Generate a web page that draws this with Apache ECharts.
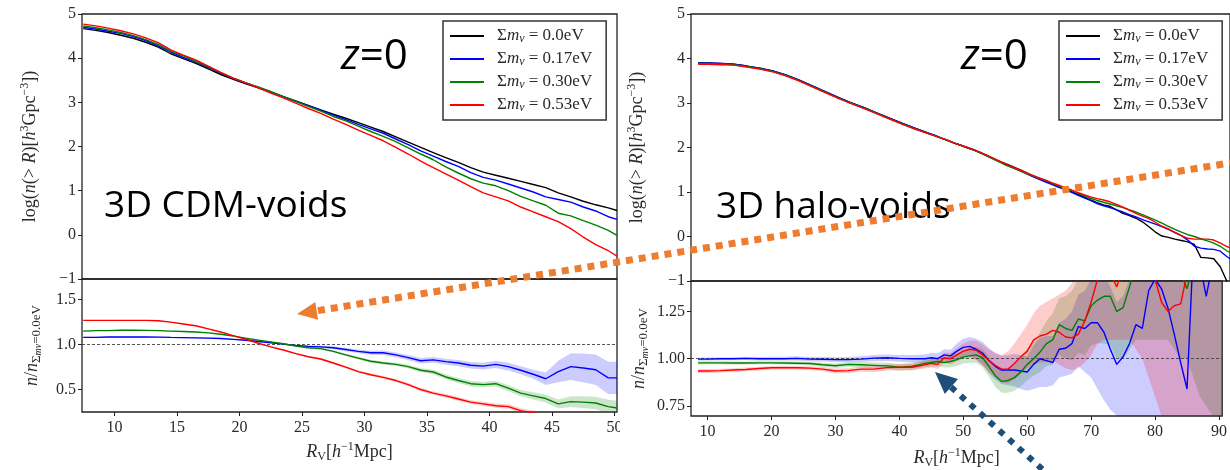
<!DOCTYPE html>
<html><head><meta charset="utf-8">
<script src="https://cdn.jsdelivr.net/npm/echarts@6/dist/echarts.min.js"></script>
<style>html,body{margin:0;padding:0;background:#fff}#c{width:1230px;height:470px}</style>
</head><body><div id="c"></div><script>
// ---------- DATA ----------
const NAMES = ['0.0eV','0.17eV','0.30eV','0.53eV'];
const COLORS = ['#000000','#0000ff','#008000','#ff0000'];
const BAND_COLORS = ['rgba(0,0,255,0.2)','rgba(0,128,0,0.2)','rgba(255,0,0,0.2)'];

// Left panel (3D CDM-voids)
const xL = [7.5,8.5,9.5,10.5,11.5,12.5,13.5,14.5,15.5,16.5,17.5,18.5,19.5,20.5,21.5,22.5,23.5,24.5,25.5,26.5,27.5,28.5,29.5,30.5,31.5,32.5,33.5,34.5,35.5,36.5,37.5,38.5,39.5,40.5,41.5,42.5,43.5,44.5,45.5,46.5,47.5,48.5,49.5,50.2];
const logL0 = [4.67,4.63,4.58,4.52,4.45,4.36,4.25,4.10,3.99,3.88,3.76,3.63,3.52,3.42,3.33,3.23,3.13,3.03,2.93,2.83,2.73,2.64,2.54,2.44,2.34,2.22,2.10,1.98,1.86,1.75,1.64,1.52,1.42,1.35,1.28,1.21,1.14,1.07,0.95,0.86,0.76,0.68,0.61,0.55];
const logL1 = [4.70,4.66,4.61,4.56,4.49,4.40,4.28,4.14,4.02,3.91,3.79,3.66,3.54,3.44,3.34,3.24,3.13,3.02,2.92,2.82,2.71,2.61,2.50,2.40,2.30,2.17,2.04,1.90,1.78,1.66,1.55,1.41,1.30,1.24,1.15,1.06,0.97,0.86,0.80,0.74,0.63,0.54,0.41,0.35];
const logL2 = [4.73,4.69,4.64,4.58,4.51,4.42,4.31,4.16,4.05,3.93,3.81,3.67,3.55,3.44,3.35,3.24,3.13,3.02,2.91,2.80,2.68,2.58,2.46,2.34,2.23,2.11,1.97,1.83,1.70,1.54,1.40,1.27,1.17,1.11,1.00,0.87,0.77,0.67,0.49,0.43,0.32,0.22,0.10,-0.01];
const logL3 = [4.77,4.73,4.68,4.62,4.55,4.46,4.35,4.19,4.07,3.96,3.82,3.68,3.55,3.44,3.33,3.21,3.10,2.98,2.86,2.75,2.62,2.50,2.37,2.25,2.13,1.98,1.83,1.67,1.52,1.38,1.24,1.09,0.95,0.86,0.77,0.63,0.52,0.41,0.30,0.14,-0.05,-0.22,-0.36,-0.48];
const ratioL1 = [1.08,1.08,1.085,1.085,1.085,1.085,1.083,1.08,1.078,1.075,1.072,1.068,1.058,1.048,1.035,1.02,1.005,0.99,0.98,0.975,0.965,0.945,0.925,0.91,0.91,0.885,0.855,0.82,0.83,0.81,0.795,0.77,0.76,0.78,0.755,0.715,0.67,0.62,0.70,0.755,0.74,0.72,0.63,0.63];
const ratioL2 = [1.15,1.155,1.155,1.16,1.16,1.158,1.155,1.15,1.145,1.14,1.13,1.115,1.095,1.07,1.05,1.03,1.01,0.985,0.965,0.955,0.925,0.885,0.85,0.815,0.795,0.78,0.755,0.715,0.695,0.64,0.6,0.565,0.555,0.565,0.515,0.46,0.43,0.4,0.34,0.365,0.36,0.35,0.31,0.295];
const ratioL3 = [1.27,1.27,1.27,1.27,1.27,1.27,1.265,1.25,1.23,1.21,1.175,1.14,1.1,1.06,1.015,0.975,0.94,0.9,0.865,0.84,0.795,0.75,0.7,0.665,0.635,0.6,0.555,0.5,0.46,0.43,0.395,0.36,0.34,0.32,0.31,0.265,0.24,0.22,0.2,0.18,0.16,0.14,0.12,0.1];
const halfWidthL1 = [0.006,0.006,0.006,0.006,0.006,0.006,0.006,0.006,0.006,0.006,0.006,0.006,0.006,0.006,0.006,0.006,0.008,0.01,0.012,0.014,0.016,0.018,0.02,0.022,0.025,0.027,0.03,0.03,0.032,0.033,0.035,0.036,0.038,0.04,0.042,0.045,0.05,0.07,0.12,0.15,0.16,0.17,0.18,0.18];
const halfWidthL2 = [0.005,0.005,0.005,0.005,0.005,0.005,0.005,0.005,0.005,0.005,0.005,0.005,0.005,0.005,0.005,0.005,0.007,0.008,0.01,0.011,0.012,0.013,0.015,0.016,0.017,0.018,0.02,0.022,0.025,0.026,0.028,0.03,0.03,0.032,0.034,0.036,0.04,0.045,0.05,0.06,0.065,0.07,0.075,0.08];
const halfWidthL3 = [0.005,0.005,0.005,0.005,0.005,0.005,0.005,0.005,0.005,0.005,0.005,0.005,0.005,0.005,0.005,0.005,0.007,0.008,0.009,0.01,0.011,0.012,0.013,0.014,0.015,0.016,0.017,0.018,0.019,0.02,0.021,0.022,0.023,0.024,0.025,0.026,0.027,0.028,0.03,0.03,0.03,0.03,0.03,0.03];

// Right panel (3D halo-voids)
const xR = [8.5,10,12,14,16,18,20,22,24,26,28,30,32,34,36,38,40,42,44,45,46,47,48,49,50,51,52,53,54,55,56,57,58,59,60,61,62,63,64,65,66,67,68,69,70,71,72,73,74,75,76,77,78,79,80,81,82,83,84,85,86,87,88,89,90,91,92];
const logR0 = [3.90,3.90,3.89,3.87,3.83,3.78,3.72,3.63,3.52,3.39,3.26,3.13,3.01,2.90,2.78,2.66,2.54,2.43,2.32,2.27,2.21,2.16,2.10,2.05,1.99,1.94,1.88,1.82,1.75,1.69,1.63,1.57,1.51,1.44,1.37,1.31,1.25,1.19,1.13,1.07,1.01,0.95,0.89,0.82,0.76,0.71,0.68,0.60,0.52,0.47,0.41,0.33,0.22,0.10,0.01,-0.02,-0.06,-0.09,-0.12,-0.18,-0.47,-0.48,-0.50,-0.68,-1.0,-1.3,-1.6];
const logR1 = [3.90,3.90,3.89,3.87,3.83,3.78,3.72,3.63,3.52,3.39,3.26,3.13,3.01,2.90,2.78,2.66,2.54,2.43,2.32,2.27,2.21,2.16,2.10,2.05,2.00,1.95,1.89,1.82,1.75,1.68,1.61,1.55,1.49,1.42,1.35,1.29,1.23,1.17,1.11,1.06,1.00,0.93,0.87,0.81,0.74,0.69,0.65,0.60,0.55,0.49,0.44,0.38,0.33,0.28,0.22,0.16,0.09,0.02,-0.08,-0.22,-0.26,-0.28,-0.29,-0.33,-0.45,-0.55,-0.65];
const logR2 = [3.89,3.89,3.88,3.86,3.82,3.77,3.71,3.62,3.51,3.38,3.25,3.12,3.00,2.89,2.77,2.65,2.53,2.42,2.31,2.26,2.21,2.15,2.10,2.05,1.99,1.94,1.88,1.81,1.74,1.67,1.60,1.54,1.48,1.42,1.37,1.31,1.26,1.20,1.14,1.09,1.04,0.98,0.92,0.86,0.81,0.77,0.73,0.69,0.65,0.60,0.55,0.49,0.43,0.37,0.30,0.23,0.16,0.10,0.04,0.00,-0.05,-0.10,-0.15,-0.22,-0.32,-0.40,-0.50];
const logR3 = [3.87,3.87,3.86,3.85,3.81,3.76,3.70,3.61,3.50,3.37,3.24,3.11,2.99,2.88,2.76,2.64,2.52,2.41,2.31,2.26,2.21,2.16,2.10,2.05,2.00,1.95,1.89,1.83,1.76,1.69,1.62,1.56,1.50,1.44,1.38,1.32,1.27,1.21,1.16,1.10,1.05,0.99,0.94,0.89,0.85,0.82,0.78,0.72,0.66,0.59,0.52,0.46,0.40,0.32,0.23,0.17,0.09,0.02,-0.04,-0.06,-0.06,-0.06,-0.08,-0.15,-0.22,-0.30,-0.40];
const ratioR1 = [0.998,0.998,1.0,1.0,1.002,1.0,1.0,1.0,1.002,0.998,0.997,0.995,0.995,0.998,1.003,1.005,1.002,1.0,1.0,1.005,1.0,1.02,1.015,1.04,1.06,1.065,1.05,1.03,0.99,0.96,0.94,0.94,0.94,0.935,0.93,0.97,1.0,0.99,0.98,1.05,1.055,1.08,1.17,1.16,1.19,1.19,1.14,1.05,0.97,1.01,1.08,1.18,1.16,1.36,1.42,1.37,1.27,1.13,0.98,0.84,1.6,1.5,1.33,1.5,1.6,1.6,1.6];
const ratioR2 = [0.978,0.978,0.978,0.977,0.977,0.978,0.978,0.977,0.976,0.975,0.968,0.963,0.97,0.968,0.965,0.962,0.955,0.96,0.975,0.98,0.985,0.98,0.985,0.995,1.01,1.015,1.02,1.005,0.96,0.91,0.88,0.885,0.9,0.93,0.97,1.0,1.035,1.08,1.10,1.18,1.16,1.15,1.21,1.2,1.28,1.31,1.33,1.33,1.25,1.27,1.38,1.5,1.55,1.55,1.55,1.55,1.55,1.5,1.45,1.37,1.5,1.6,1.6,1.6,1.6,1.6,1.6];
const ratioR3 = [0.935,0.935,0.937,0.94,0.943,0.948,0.952,0.953,0.952,0.95,0.945,0.935,0.937,0.945,0.945,0.953,0.955,0.955,0.968,0.975,0.97,1.005,1.0,1.02,1.04,1.05,1.045,1.02,0.99,0.965,0.945,0.945,0.975,1.01,1.04,1.1,1.12,1.13,1.15,1.14,1.115,1.11,1.13,1.2,1.3,1.42,1.42,1.45,1.38,1.48,1.5,1.5,1.48,1.45,1.42,1.3,1.25,1.28,1.29,1.45,1.55,1.6,1.6,1.6,1.6,1.6,1.6];
const bandLoR1 = [0.99,0.99,0.992,0.992,0.993,0.991,0.99,0.99,0.991,0.987,0.985,0.982,0.981,0.983,0.987,0.988,0.984,0.98,0.978,0.98,0.973,0.99,0.982,1.0,1.015,1.015,0.995,0.97,0.925,0.89,0.865,0.86,0.855,0.84,0.83,0.84,0.85,0.85,0.86,0.9,0.91,0.92,0.96,0.93,0.9,0.84,0.78,0.73,0.7,0.67,0.64,0.6,0.57,0.5,0.5,0.5,0.5,0.5,0.5,0.5,0.5,0.5,0.5,0.5,0.5,0.5,0.5];
const bandHiR1 = [1.006,1.006,1.008,1.008,1.011,1.009,1.01,1.01,1.013,1.009,1.009,1.008,1.009,1.013,1.019,1.022,1.02,1.02,1.022,1.03,1.027,1.05,1.048,1.08,1.105,1.115,1.105,1.09,1.055,1.03,1.015,1.02,1.025,1.02,1.01,1.07,1.11,1.12,1.12,1.19,1.21,1.25,1.34,1.36,1.42,1.45,1.45,1.38,1.3,1.33,1.42,1.6,1.6,1.7,1.7,1.7,1.7,1.7,1.7,1.7,1.7,1.7,1.7,1.7,1.7,1.7,1.7];
const bandLoR2 = [0.97,0.97,0.97,0.969,0.969,0.97,0.97,0.969,0.967,0.966,0.958,0.951,0.957,0.954,0.95,0.946,0.938,0.942,0.955,0.958,0.96,0.953,0.955,0.962,0.975,0.977,0.978,0.955,0.905,0.85,0.82,0.82,0.83,0.855,0.885,0.91,0.93,0.96,0.97,1.02,1.0,0.99,1.03,1.02,1.07,1.08,1.08,1.07,1.0,1.0,1.05,1.1,1.1,1.1,1.1,1.1,1.1,1.05,1.0,1.0,0.9,0.8,0.75,0.7,0.6,0.6,0.6];
const bandHiR2 = [0.986,0.986,0.986,0.985,0.985,0.986,0.986,0.985,0.985,0.984,0.978,0.975,0.983,0.982,0.98,0.978,0.972,0.978,0.995,1.002,1.01,1.007,1.015,1.028,1.045,1.055,1.062,1.05,1.01,0.965,0.94,0.95,0.97,1.005,1.05,1.09,1.14,1.2,1.24,1.32,1.33,1.36,1.42,1.45,1.5,1.55,1.6,1.6,1.6,1.6,1.7,1.7,1.7,1.7,1.7,1.7,1.7,1.7,1.7,1.7,1.7,1.7,1.7,1.7,1.7,1.7,1.7];
const bandLoR3 = [0.925,0.925,0.927,0.93,0.933,0.938,0.942,0.943,0.942,0.94,0.934,0.922,0.924,0.931,0.93,0.937,0.938,0.937,0.948,0.953,0.946,0.978,0.97,0.985,1.0,1.005,0.995,0.965,0.93,0.9,0.875,0.87,0.89,0.92,0.95,0.97,0.98,0.98,0.99,0.97,0.95,0.94,0.95,0.98,1.02,1.08,1.1,1.1,1.1,1.1,1.1,1.05,1.0,0.9,0.8,0.7,0.6,0.6,0.6,0.6,0.6,0.6,0.6,0.6,0.6,0.6,0.6];
const bandHiR3 = [0.945,0.945,0.947,0.95,0.953,0.958,0.962,0.963,0.962,0.96,0.956,0.948,0.95,0.959,0.96,0.969,0.972,0.973,0.988,0.997,0.994,1.032,1.03,1.055,1.08,1.095,1.095,1.075,1.05,1.03,1.02,1.04,1.08,1.13,1.18,1.24,1.28,1.3,1.32,1.34,1.36,1.4,1.45,1.5,1.6,1.7,1.7,1.7,1.7,1.7,1.7,1.7,1.7,1.7,1.7,1.7,1.7,1.7,1.7,1.7,1.7,1.7,1.7,1.7,1.7,1.7,1.7];

const xTicksL = [10,15,20,25,30,35,40,45,50];
const xTicksR = [10,20,30,40,50,60,70,80,90];
const yTicksTop = [-1,0,1,2,3,4,5];
const yTicksRatioL = [0.5,1.0,1.5];
const yTicksRatioR = [0.75,1.0,1.25];

// ---------- HELPERS ----------
const SERIF = 'Liberation Serif';
const TXT = '#2a2a2a';
const pairs = (xs, ys) => xs.map((x, i) => [x, ys[i]]);
const richTok = {
  i: {fontFamily: SERIF, fontStyle: 'italic', fontSize: 18, color: TXT, lineHeight: 22},
  r: {fontFamily: SERIF, fontSize: 18, color: TXT, lineHeight: 22},
  u: {fontFamily: SERIF, fontSize: 12, color: TXT, lineHeight: 11, verticalAlign: 'top'},
  s: {fontFamily: SERIF, fontSize: 13, color: TXT, lineHeight: 12, verticalAlign: 'bottom'},
  ss: {fontFamily: SERIF, fontStyle: 'italic', fontSize: 10, color: TXT, lineHeight: 6, verticalAlign: 'bottom'},
  sv: {fontFamily: SERIF, fontSize: 12, color: TXT, lineHeight: 11, verticalAlign: 'bottom'}
};
const nameStyle = {fontFamily: SERIF, fontSize: 18, color: TXT, lineHeight: 22, rich: richTok};

function lineSeries(name, xs, ys, color, xi, yi, extra) {
  return Object.assign({
    type: 'line', name, xAxisIndex: xi, yAxisIndex: yi, data: pairs(xs, ys),
    symbol: 'none', smooth: false, silent: true, z: 5,
    lineStyle: {color, width: 1.4}, itemStyle: {color}
  }, extra || {});
}
// shaded uncertainty band, drawn as one polygon through the axes' scales
function bandSeries(id, xs, lo, hi, color, xi, yi) {
  return {
    type: 'custom', name: id, xAxisIndex: xi, yAxisIndex: yi, silent: true, z: 2, clip: true,
    data: xs.map((x, i) => [x, lo[i], hi[i]]),
    encode: {x: 0, y: [1, 2]},
    renderItem: function (params, api) {
      if (params.dataIndex !== 0) return null;
      const pts = [];
      for (let i = 0; i < xs.length; i++) pts.push(api.coord([xs[i], hi[i]]));
      for (let i = xs.length - 1; i >= 0; i--) pts.push(api.coord([xs[i], lo[i]]));
      const cs = params.coordSys;
      return {
        type: 'group',
        clipPath: {type: 'rect', shape: {x: cs.x, y: cs.y, width: cs.width, height: cs.height}},
        children: [{type: 'polygon', shape: {points: pts}, style: {fill: color, stroke: null}}]
      };
    }
  };
}
const refLine = {silent: true, symbol: 'none', label: {show: false},
  lineStyle: {type: [3, 2], color: '#444', width: 0.9}, data: [{yAxis: 1}]};

// ---------- SERIES ----------
const series = [];
const logL = [logL0, logL1, logL2, logL3];
const logR = [logR0, logR1, logR2, logR3];
const ratL = [ratioL1, ratioL2, ratioL3];
const ratR = [ratioR1, ratioR2, ratioR3];
const hwL = [halfWidthL1, halfWidthL2, halfWidthL3];
const loR = [bandLoR1, bandLoR2, bandLoR3];
const hiR = [bandHiR1, bandHiR2, bandHiR3];

for (let k = 0; k < 4; k++) series.push(lineSeries(NAMES[k], xL, logL[k], COLORS[k], 0, 0));
for (let k = 0; k < 3; k++) {
  const lo = ratL[k].map((v, i) => v - hwL[k][i]);
  const hi = ratL[k].map((v, i) => v + hwL[k][i]);
  series.push(bandSeries('bandL' + k, xL, lo, hi, BAND_COLORS[k], 1, 1));
}
for (let k = 0; k < 3; k++) series.push(lineSeries('ratioL' + k, xL, ratL[k], COLORS[k + 1], 1, 1,
  k === 0 ? {markLine: refLine} : {}));

for (let k = 0; k < 4; k++) series.push(lineSeries(NAMES[k], xR, logR[k], COLORS[k], 2, 2));
for (let k = 0; k < 3; k++) series.push(bandSeries('bandR' + k, xR, loR[k], hiR[k], BAND_COLORS[k], 3, 3));
for (let k = 0; k < 3; k++) series.push(lineSeries('ratioR' + k, xR, ratR[k], COLORS[k + 1], 3, 3,
  k === 0 ? {markLine: refLine} : {}));

// ---------- AXES ----------
const tickStyle = {show: true, length: 4, lineStyle: {color: '#222', width: 1}};
const labStyle = {fontFamily: SERIF, fontSize: 16, color: TXT};
const minusFmt = v => (v < 0 ? '\u2212' + Math.abs(v) : String(v));

const gridBox = {show: true, borderColor: '#222', borderWidth: 1.3, backgroundColor: 'transparent', containLabel: false};
const grids = [
  Object.assign({left: 82, top: 14, width: 535, height: 265}, gridBox),
  Object.assign({left: 82, top: 279, width: 535, height: 133}, gridBox),
  Object.assign({left: 691, top: 14, width: 544, height: 267}, gridBox),
  Object.assign({left: 691, top: 281, width: 544, height: 136}, gridBox)
];
const xName = '{i|R}{sv|V}{r|[}{i|h}{u|\u22121}{r|Mpc]}';
const xAxes = [
  {gridIndex: 0, type: 'value', min: 7.4, max: 50.2, show: false},
  {gridIndex: 1, type: 'value', min: 7.4, max: 50.2, splitLine: {show: false}, axisLine: {show: false},
   axisTick: Object.assign({customValues: xTicksL}, tickStyle),
   axisLabel: Object.assign({customValues: xTicksL, margin: 8}, labStyle),
   name: xName, nameLocation: 'middle', nameGap: 29, nameTextStyle: nameStyle},
  {gridIndex: 2, type: 'value', min: 7.4, max: 90.5, show: false},
  {gridIndex: 3, type: 'value', min: 7.4, max: 90.5, splitLine: {show: false}, axisLine: {show: false},
   axisTick: Object.assign({customValues: xTicksR}, tickStyle),
   axisLabel: Object.assign({customValues: xTicksR, margin: 8}, labStyle),
   name: xName, nameLocation: 'middle', nameGap: 31, nameTextStyle: nameStyle}
];
const topName = '{r|log(}{i|n}{r|(> }{i|R}{r|)[}{i|h}{u|3}{r|Gpc}{u|\u22123}{r|])}';
const ratioName = '{i|n}{r|/}{i|n}{s|\u03a3}{ss|m}{ss|\u03bd}{s|=0.0eV}';
const yAxes = [
  {gridIndex: 0, type: 'value', min: -1, max: 5, interval: 1, splitLine: {show: false}, axisLine: {show: false},
   axisTick: tickStyle, axisLabel: Object.assign({formatter: minusFmt, margin: 6, customValues: yTicksTop}, labStyle),
   name: topName, nameLocation: 'middle', nameGap: 41, nameTextStyle: nameStyle},
  {gridIndex: 1, type: 'value', min: 0.25, max: 1.73, splitLine: {show: false}, axisLine: {show: false},
   axisTick: Object.assign({customValues: yTicksRatioL}, tickStyle),
   axisLabel: Object.assign({customValues: yTicksRatioL, formatter: v => Number(v).toFixed(1), margin: 6}, labStyle),
   name: ratioName, nameLocation: 'middle', nameGap: 39, nameTextStyle: nameStyle},
  {gridIndex: 2, type: 'value', min: -1, max: 5, interval: 1, splitLine: {show: false}, axisLine: {show: false},
   axisTick: tickStyle, axisLabel: Object.assign({formatter: minusFmt, margin: 6, customValues: yTicksTop}, labStyle),
   name: topName, nameLocation: 'middle', nameGap: 43, nameTextStyle: nameStyle},
  {gridIndex: 3, type: 'value', min: 0.697, max: 1.411, splitLine: {show: false}, axisLine: {show: false},
   axisTick: Object.assign({customValues: yTicksRatioR}, tickStyle),
   axisLabel: Object.assign({customValues: yTicksRatioR, formatter: v => Number(v).toFixed(2), margin: 6}, labStyle),
   name: ratioName, nameLocation: 'middle', nameGap: 41, nameTextStyle: nameStyle}
];

// ---------- LEGENDS ----------
const legRich = {
  g: {width: 8, fontSize: 17, lineHeight: 18},
  t: {fontFamily: SERIF, fontSize: 17, color: TXT, lineHeight: 18},
  i: {fontFamily: SERIF, fontStyle: 'italic', fontSize: 17, color: TXT, lineHeight: 18},
  s: {fontFamily: SERIF, fontStyle: 'italic', fontSize: 12, color: TXT, lineHeight: 9, verticalAlign: 'bottom'}
};
function legend(left) {
  return {
    left, top: 21, orient: 'vertical', data: NAMES, selectedMode: false,
    icon: 'rect', itemWidth: 34, itemHeight: 2, itemGap: 5,
    padding: [6, 14, 6, 7], borderColor: '#333', borderWidth: 1.5, borderRadius: 0,
    backgroundColor: '#fff',
    textStyle: {fontFamily: SERIF, fontSize: 17, color: TXT, lineHeight: 18, rich: legRich},
    formatter: n => '{g| }{t|\u03a3}{i|m}{s|\u03bd}{t| = ' + n + '}'
  };
}

// ---------- ANNOTATIONS ----------
const SANS = 'Open Sans';
function bigText(x, y, rich, text) {
  return {type: 'text', x, y, z: 100, silent: true,
    style: {text, rich, verticalAlign: 'middle', align: 'left'}};
}
const zRich = {
  a: {fontFamily: SANS, fontStyle: 'italic', fontSize: 42, fill: '#000'},
  b: {fontFamily: SANS, fontSize: 42, fill: '#000'}
};
const lblRich = {b: {fontFamily: SANS, fontSize: 37, fill: '#000'}};
const graphic = [
  {type: 'rect', z: 90, silent: true, shape: {x: 620, y: 418, width: 45, height: 28}, style: {fill: '#fff'}},
  bigText(341, 57, zRich, '{a|z}{b|=0}'),
  bigText(961, 57, zRich, '{a|z}{b|=0}'),
  bigText(104, 206, lblRich, '{b|3D CDM-voids}'),
  bigText(716, 207, lblRich, '{b|3D halo-voids}'),
  // orange dotted arrow
  {type: 'line', z: 100, silent: true, shape: {x1: 1236, y1: 162, x2: 317, y2: 310.8},
   style: {stroke: '#ED7D31', lineWidth: 7, lineDash: [7, 6], lineCap: 'butt'}},
  {type: 'polygon', z: 100, silent: true, shape: {points: [[297, 314], [315.3, 301.9], [318.1, 319.7]]},
   style: {fill: '#ED7D31'}},
  // blue dotted arrow
  {type: 'line', z: 100, silent: true, shape: {x1: 1052, y1: 478, x2: 951, y2: 387},
   style: {stroke: '#1F4E79', lineWidth: 6, lineDash: [6, 7], lineCap: 'butt'}},
  {type: 'polygon', z: 100, silent: true, shape: {points: [[935, 372], [958, 379], [944.8, 394.1]]},
   style: {fill: '#1F4E79'}}
];

const chart = echarts.init(document.getElementById('c'), null, {renderer: 'canvas'});
chart.setOption({
  animation: false,
  backgroundColor: '#fff',
  grid: grids,
  xAxis: xAxes,
  yAxis: yAxes,
  legend: [legend(443), legend(1059)],
  series,
  graphic
});
</script></body></html>
